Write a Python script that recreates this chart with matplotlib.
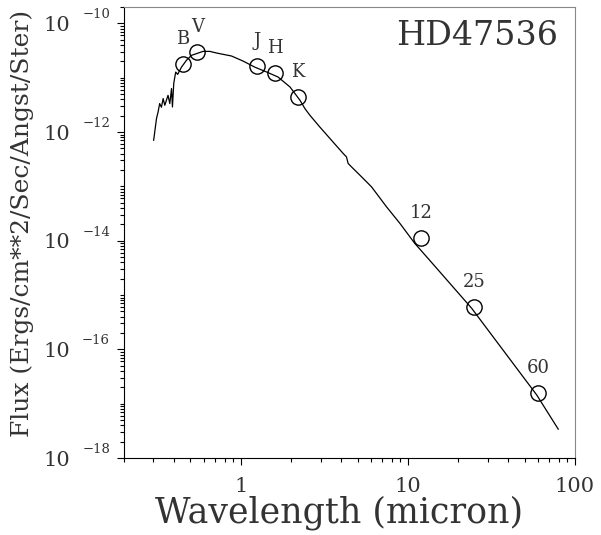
import numpy as np
import matplotlib
matplotlib.use('Agg')
import matplotlib.pyplot as plt
from matplotlib.ticker import FixedLocator, LogLocator, NullFormatter

plt.rcParams['font.family'] = 'DejaVu Serif'

# model spectrum (micron, flux)
sed_wave = [0.301, 0.313, 0.320, 0.327, 0.335, 0.343, 0.351, 0.367, 0.376, 0.385,
            0.390, 0.397, 0.403, 0.408, 0.419, 0.442, 0.473, 0.507, 0.543, 0.594,
            0.652, 0.715, 0.748, 0.879, 1.03, 1.21, 1.43, 1.67, 1.97, 2.26, 2.42,
            2.59, 2.97, 3.49, 4.10, 4.29, 4.39, 4.60, 5.28, 6.06, 7.45, 8.96, 11.0,
            13.2, 24.1, 59.0, 79.4]
sed_flux = [7.06e-13, 1.77e-12, 2.34e-12, 3.34e-12, 2.86e-12, 4.13e-12, 3.11e-12,
            4.74e-12, 3.34e-12, 6.31e-12, 2.89e-12, 7.80e-12, 1.03e-11, 1.27e-11,
            1.15e-11, 1.57e-11, 2.09e-11, 2.58e-11, 2.77e-11, 3.05e-11, 3.05e-11,
            2.85e-11, 2.77e-11, 2.51e-11, 2.03e-11, 1.57e-11, 1.27e-11, 1.03e-11,
            6.75e-12, 3.85e-12, 2.70e-12, 2.04e-12, 1.24e-12, 7.06e-13, 4.03e-13,
            3.48e-13, 2.64e-13, 2.28e-13, 1.50e-13, 9.79e-14, 4.20e-14, 2.08e-14,
            8.91e-15, 4.72e-15, 5.69e-16, 1.45e-17, 3.40e-18]

# photometry
phot_label = ['B', 'V', 'J', 'H', 'K', '12', '25', '60']
phot_wave = [0.45, 0.55, 1.25, 1.6, 2.2, 12, 25, 60]
phot_flux = [1.76e-11, 2.93e-11, 1.62e-11, 1.2e-11, 4.36e-12, 1.12e-14, 6.0e-16, 1.58e-17]

x_major = [1, 10, 100]
x_labels = ['1', '10', '100']
y_major = [1e-18, 1e-16, 1e-14, 1e-12, 1e-10]
y_exp = ['\u221218', '\u221216', '\u221214', '\u221212', '\u221210']

txt = '#333333'

fig = plt.figure(figsize=(6.01, 5.35), dpi=100)
ax = fig.add_axes([0.2063, 0.1439, 0.7504, 0.8430])

ax.plot(sed_wave, sed_flux, color='k', lw=0.9)
ax.plot(phot_wave, phot_flux, 'o', mfc='none', mec='k', ms=11, mew=1.0)
for lab, w, f in zip(phot_label, phot_wave, phot_flux):
    ax.annotate(lab, (w, f), xytext=(0, 18), textcoords='offset points',
                ha='center', va='center', fontsize=13, color=txt)

ax.set_xscale('log')
ax.set_yscale('log')
ax.set_xlim(0.2, 100)
ax.set_ylim(1e-18, 2e-10)

for s in ['top', 'right']:
    ax.spines[s].set_color('#888888')
for s in ['left', 'bottom']:
    ax.spines[s].set_color('k')

ax.xaxis.set_major_locator(FixedLocator(x_major))
ax.set_xticklabels(x_labels)
ax.xaxis.set_minor_locator(LogLocator(base=10, subs=np.arange(2, 10), numticks=20))
ax.xaxis.set_minor_formatter(NullFormatter())

ax.yaxis.set_major_locator(FixedLocator(y_major))
ax.set_yticklabels(['10'] * len(y_major))
ax.yaxis.set_minor_locator(LogLocator(base=10, subs=np.arange(1, 10), numticks=40))
ax.yaxis.set_minor_formatter(NullFormatter())

ax.tick_params(which='both', direction='out', top=False, right=False, width=0.8,
               labelcolor=txt)
ax.tick_params(which='major', length=5)
ax.tick_params(which='minor', length=3)
ax.tick_params(axis='x', which='major', labelsize=15, pad=9)
ax.tick_params(axis='y', which='major', labelsize=15, pad=34)

for v, e in zip(y_major, y_exp):
    ax.annotate(e, (0, v), xycoords=('axes fraction', 'data'), xytext=(-10, 1.5),
                textcoords='offset points', ha='right', va='bottom', fontsize=9.5,
                color=txt)

ax.text(0.962, 0.971, 'HD47536', transform=ax.transAxes, ha='right', va='top',
        fontsize=24, color=txt)

fig.text(339 / 601, 1 - 523 / 535, 'Wavelength (micron)', ha='center',
         va='baseline', fontsize=25, color=txt)
fig.text(22 / 601, 1 - 223.5 / 535, 'Flux (Ergs/cm**2/Sec/Angst/Ster)', rotation=90,
         ha='center', va='center', fontsize=18, color=txt)

fig.savefig('out.png', dpi=100)
